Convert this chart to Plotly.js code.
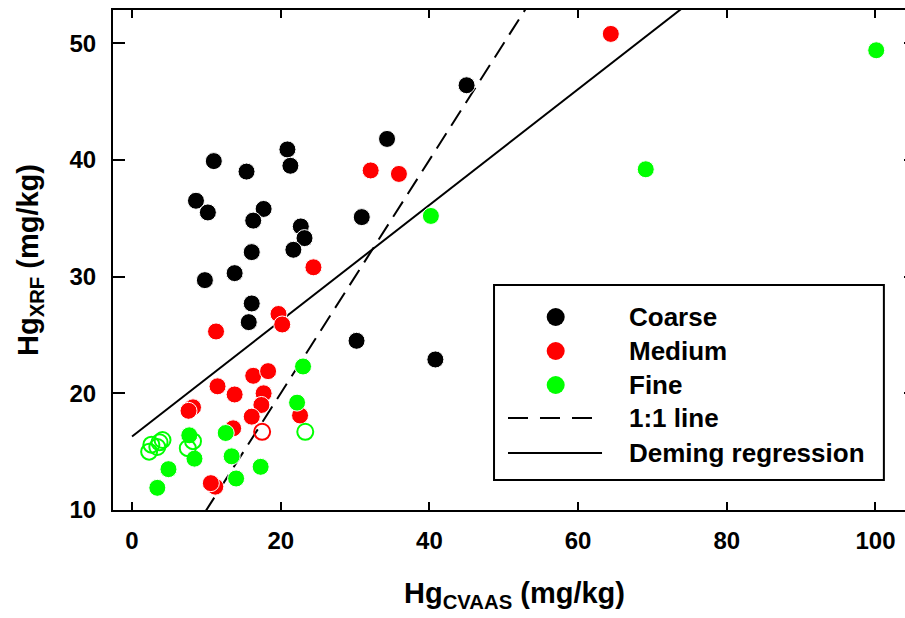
<!DOCTYPE html>
<html><head><meta charset="utf-8">
<script src="https://cdn.plot.ly/plotly-3.0.1.min.js"></script>
<style>html,body{margin:0;padding:0;overflow:hidden;background:#fff}#chart{width:920px;height:618px}</style>
</head><body><div id="chart"></div>
<script>
// ---- data ----
const coarseX = [45.0,34.3,20.9,21.3,11.0,15.4,8.6,10.2,17.7,16.3,30.9,22.7,23.2,21.7,16.1,13.8,9.8,16.1,15.7,30.2,40.8];
const coarseY = [46.4,41.8,40.9,39.5,39.9,39.0,36.5,35.5,35.8,34.8,35.1,34.3,33.3,32.3,32.1,30.3,29.7,27.7,26.1,24.5,22.9];

const mediumX = [64.4,32.1,35.9,24.4,19.7,20.2,11.3,16.3,18.3,11.5,13.8,8.2,7.6,17.7,17.4,16.1,22.6,13.6,11.2,10.6];
const mediumY = [50.8,39.1,38.8,30.8,26.8,25.9,25.3,21.5,21.9,20.6,19.9,18.8,18.5,20.0,19.0,18.0,18.1,17.0,12.0,12.3];
const mediumOpenX = [17.5];
const mediumOpenY = [16.7];

const fineX = [100.1,69.1,40.2,23.0,22.2,12.6,7.7,8.4,13.4,17.3,14.0,4.9,3.4];
const fineY = [49.4,39.2,35.2,22.3,19.2,16.6,16.4,14.4,14.6,13.7,12.7,13.5,11.9];
const fineOpenX = [23.3,2.3,2.6,3.4,4.1,3.7,8.2,7.5];
const fineOpenY = [16.7,15.0,15.6,15.4,16.0,15.8,15.9,15.3];

const demingIntercept = 16.3;
const demingSlope = 0.496;
const lineX = [0, 110];

const xTicks = [0,20,40,60,80,100];
const yTicks = [10,20,30,40,50];
const legendLabels = ['Coarse','Medium','Fine','1:1 line','Deming regression'];
const seriesColors = ['#000000','#ff0000','#00ff00'];

// ---- chart ----
const FONT = 'Liberation Sans, Arial, sans-serif';
const mk = (c) => ({color:c, size:17, symbol:'circle', line:{color:'#ffffff', width:1}});
const mkOpen = (c) => ({color:c, size:16, symbol:'circle-open', line:{color:c, width:2}});

const traces = [
  {type:'scatter', mode:'lines', x:lineX, y:lineX.map(v=>v), line:{color:'#000', width:2, dash:'18px,9px'}, hoverinfo:'skip'},
  {type:'scatter', mode:'lines', x:lineX, y:lineX.map(v=>demingIntercept+demingSlope*v), line:{color:'#000', width:2}, hoverinfo:'skip'},
  {type:'scatter', mode:'markers', x:coarseX, y:coarseY, marker:mk(seriesColors[0]), name:legendLabels[0]},
  {type:'scatter', mode:'markers', x:mediumX, y:mediumY, marker:mk(seriesColors[1]), name:legendLabels[1]},
  {type:'scatter', mode:'markers', x:mediumOpenX, y:mediumOpenY, marker:mkOpen(seriesColors[1]), name:legendLabels[1]},
  {type:'scatter', mode:'markers', x:fineX, y:fineY, marker:mk(seriesColors[2]), name:legendLabels[2]},
  {type:'scatter', mode:'markers', x:fineOpenX, y:fineOpenY, marker:mkOpen(seriesColors[2]), name:legendLabels[2]}
];

// custom legend (paper coordinates of the plot area)
const rowY = [0.386,0.318,0.250,0.184,0.114];
const shapes = [
  {type:'rect', xref:'paper', yref:'paper', x0:0.4745, x1:0.960, y0:0.06, y1:0.45, line:{color:'#000', width:2}, fillcolor:'#ffffff', layer:'above'}
];
const mx = 0.5513, rx = 9/803, ry = 9/500;
for (let i=0;i<3;i++){
  shapes.push({type:'circle', xref:'paper', yref:'paper', x0:mx-rx, x1:mx+rx, y0:rowY[i]-ry, y1:rowY[i]+ry, fillcolor:seriesColors[i], line:{width:0}, layer:'above'});
}
shapes.push({type:'line', xref:'paper', yref:'paper', x0:0.4919, x1:0.609, y0:rowY[3], y1:rowY[3], line:{color:'#000', width:2, dash:'20px,12px'}, layer:'above'});
shapes.push({type:'line', xref:'paper', yref:'paper', x0:0.4919, x1:0.609, y0:rowY[4], y1:rowY[4], line:{color:'#000', width:2}, layer:'above'});
const annotations = legendLabels.map((t,i)=>({xref:'paper', yref:'paper', x:0.640, y:rowY[i], xanchor:'left', yanchor:'middle', text:t, showarrow:false, font:{family:FONT, size:26, color:'#000', weight:700}}));

const axisCommon = {showgrid:false, zeroline:false, showline:true, linecolor:'#000', linewidth:2, mirror:'ticks', ticks:'inside', tickwidth:2, tickcolor:'#000', tickfont:{family:FONT, size:24, color:'#000', weight:700}};

const layout = {
  width:920, height:618,
  margin:{l:113, r:4, t:10, b:108},
  paper_bgcolor:'#fff', plot_bgcolor:'#fff',
  showlegend:false,
  font:{family:FONT, color:'#000'},
  xaxis: Object.assign({}, axisCommon, {range:[-2.56,105.45], tickvals:xTicks, ticklen:8, ticklabelstandoff:8,
    title:{text:'Hg<sub>CVAAS</sub> (mg/kg)', font:{family:FONT, size:29, color:'#000', weight:700}, standoff:30}}),
  yaxis: Object.assign({}, axisCommon, {range:[10,52.85], tickvals:yTicks, ticklen:12, ticklabelstandoff:10,
    title:{text:'Hg<sub>XRF</sub> (mg/kg)', font:{family:FONT, size:29, color:'#000', weight:700}, standoff:22}}),
  shapes: shapes,
  annotations: annotations
};

Plotly.newPlot('chart', traces, layout, {displayModeBar:false, staticPlot:true});
</script>
</body></html>
